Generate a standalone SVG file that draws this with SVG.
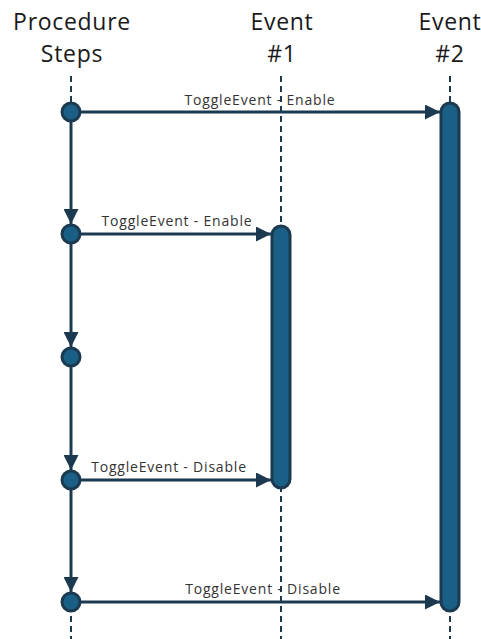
<svg xmlns="http://www.w3.org/2000/svg" width="481" height="639" viewBox="0 0 481 639">
  <defs>
    <marker id="arrow" viewBox="0 0 10 10" refX="10" refY="5" markerWidth="5" markerHeight="5" orient="auto" markerUnits="strokeWidth">
      <path d="M0,0 L10,5 L0,10 z" fill="#1c3a4f"/>
    </marker>
    <style>
      .head { font-family: "Open Sans", Lato, sans-serif; font-size: 23px; font-weight: 400; letter-spacing: 0.7px; fill: #1a1a1a; text-anchor: middle; }
      .lbl { font-family: "Open Sans", Lato, sans-serif; font-size: 14px; letter-spacing: 0.8px; fill: #333; text-anchor: middle; }
      .life { stroke: #1c3a4f; stroke-width: 2; stroke-dasharray: 6 4; fill: none; }
      .msg { stroke: #1c3a4f; stroke-width: 3; fill: none; marker-end: url(#arrow); }
      .step { fill: #1a5f85; stroke: #1c3a4f; stroke-width: 3; }
      .bar { fill: #1a5f85; stroke: #1c3a4f; stroke-width: 3; }
    </style>
  </defs>

  <!-- column headers -->
  <g id="headers">
    <text class="head" x="72" y="30">Procedure</text>
    <text class="head" x="72" y="62">Steps</text>
    <text class="head" x="282" y="30">Event</text>
    <text class="head" x="282" y="62">#1</text>
    <text class="head" x="450" y="30">Event</text>
    <text class="head" x="450" y="62">#2</text>
  </g>

  <!-- lifelines -->
  <g id="lifelines">
    <line class="life" x1="71" y1="76" x2="71" y2="639"/>
    <line class="life" x1="281" y1="76" x2="281" y2="639"/>
    <line class="life" x1="450" y1="76" x2="450" y2="639"/>
  </g>

  <!-- activation bars -->
  <g id="event1-bar">
    <rect class="bar" x="272" y="226" width="18" height="262" rx="9"/>
  </g>
  <g id="event2-bar">
    <rect class="bar" x="441" y="103" width="18" height="508" rx="9"/>
  </g>

  <!-- connectors -->
  <g id="connectors">
    <line class="msg" x1="71" y1="121" x2="71" y2="224"/>
    <line class="msg" x1="71" y1="243" x2="71" y2="347"/>
    <line class="msg" x1="71" y1="366" x2="71" y2="470"/>
    <line class="msg" x1="71" y1="489" x2="71" y2="592"/>
    <line class="msg" x1="80" y1="112" x2="440" y2="112"/>
    <line class="msg" x1="80" y1="234" x2="271" y2="234"/>
    <line class="msg" x1="80" y1="480" x2="271" y2="480"/>
    <line class="msg" x1="80" y1="602" x2="440" y2="602"/>
  </g>

  <!-- message labels -->
  <g id="labels">
    <text class="lbl" x="260" y="105">ToggleEvent - Enable</text>
    <text class="lbl" x="177" y="226">ToggleEvent - Enable</text>
    <text class="lbl" x="169" y="472">ToggleEvent - Disable</text>
    <text class="lbl" x="263" y="594">ToggleEvent - Disable</text>
  </g>

  <!-- procedure steps -->
  <g id="step1"><circle class="step" cx="71" cy="112" r="9"/></g>
  <g id="step2"><circle class="step" cx="71" cy="234" r="9"/></g>
  <g id="step3"><circle class="step" cx="71" cy="357" r="9"/></g>
  <g id="step4"><circle class="step" cx="71" cy="480" r="9"/></g>
  <g id="step5"><circle class="step" cx="71" cy="602" r="9"/></g>
</svg>
